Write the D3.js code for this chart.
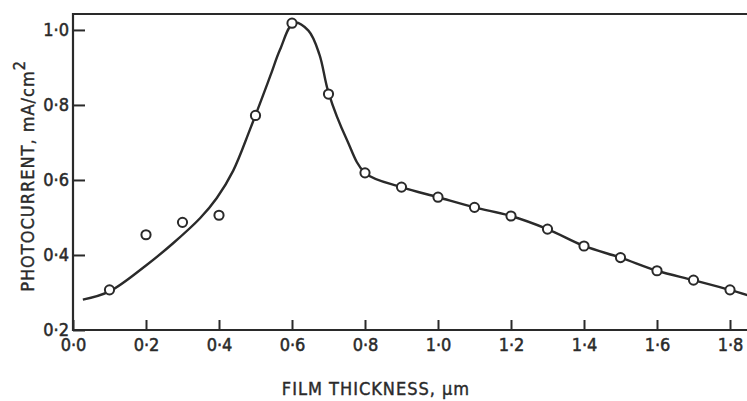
<!DOCTYPE html>
<html><head><meta charset="utf-8">
<script src="https://cdn.jsdelivr.net/npm/d3@7"></script>
<style>body{margin:0;background:#fff}svg{display:block}</style>
</head><body>
<script>
const pointX = [0.1,0.2,0.3,0.4,0.5,0.6,0.7,0.8,0.9,1.0,1.1,1.2,1.3,1.4,1.5,1.6,1.7,1.8];
const pointY = [0.307,0.454,0.487,0.506,0.772,1.018,0.829,0.619,0.581,0.554,0.527,0.504,0.469,0.424,0.393,0.358,0.333,0.307];
const curveX = [0.027,0.1,0.2,0.275,0.348,0.394,0.439,0.485,0.54,0.567,0.605,0.645,0.675,0.7,0.75,0.8,0.9,1.0,1.1,1.2,1.3,1.4,1.5,1.6,1.7,1.8,1.85];
const curveY = [0.281,0.303,0.372,0.432,0.498,0.552,0.625,0.735,0.876,0.947,1.019,0.998,0.935,0.833,0.708,0.619,0.581,0.554,0.527,0.504,0.469,0.424,0.393,0.358,0.333,0.307,0.292];
const xTicks = [0,0.2,0.4,0.6,0.8,1.0,1.2,1.4,1.6,1.8];
const xTickLabels = ["0·0","0·2","0·4","0·6","0·8","1·0","1·2","1·4","1·6","1·8"];
const yTicks = [0.2,0.4,0.6,0.8,1.0];
const yTickLabels = ["0·2","0·4","0·6","0·8","1·0"];

const W=747,H=401, L=73, T=14, R=747, B=330;
const svg=d3.select("body").append("svg").attr("width",W).attr("height",H);
const x=d3.scaleLinear().domain([0,(R-L)/365]).range([L,R]);
const y=d3.scaleLinear().domain([0.2,1.0+16/376.5]).range([B,T]);
const ink="#2a2a2a";
const font="'DejaVu Sans Condensed','DejaVu Sans',sans-serif";

svg.append("path").attr("d",`M${R},${T}H${L}V${B}H${R}`).attr("fill","none").attr("stroke",ink).attr("stroke-width",2.2);

const xa=svg.append("g").attr("transform",`translate(0,${B})`)
 .call(d3.axisBottom(x).tickValues(xTicks).tickSize(-10).tickPadding(6).tickFormat((d,i)=>xTickLabels[i]));
const ya=svg.append("g").attr("transform",`translate(${L},0)`)
 .call(d3.axisLeft(y).tickValues(yTicks).tickSize(-12).tickPadding(4).tickFormat((d,i)=>yTickLabels[i]));
[xa,ya].forEach(a=>{
 a.select(".domain").remove();
 a.selectAll(".tick line").attr("stroke",ink).attr("stroke-width",2);
 a.selectAll(".tick text").attr("fill",ink).attr("stroke",ink).attr("stroke-width",0.5)
  .style("font-family",font).style("font-size","18px");
});
xa.selectAll(".tick text").attr("dy","0.85em");

const line=d3.line().x(d=>x(d[0])).y(d=>y(d[1])).curve(d3.curveCatmullRom.alpha(0.5));
svg.append("path").datum(curveX.map((v,i)=>[v,curveY[i]])).attr("d",line)
 .attr("fill","none").attr("stroke",ink).attr("stroke-width",2.4);

svg.selectAll("circle.p").data(pointX.map((v,i)=>[v,pointY[i]])).enter().append("circle")
 .attr("cx",d=>x(d[0])).attr("cy",d=>y(d[1])).attr("r",4.6)
 .attr("fill","#fff").attr("stroke",ink).attr("stroke-width",2);

svg.append("text").attr("x",376).attr("y",395).attr("text-anchor","middle")
 .attr("fill",ink).attr("stroke",ink).attr("stroke-width",0.4)
 .style("font-family",font).style("font-size","18px").style("letter-spacing","1px")
 .text("FILM THICKNESS, μm");

const yt=svg.append("text").attr("transform","translate(34,176) rotate(-90)").attr("text-anchor","middle")
 .attr("fill",ink).attr("stroke",ink).attr("stroke-width",0.4)
 .style("font-family",font).style("font-size","18px").style("letter-spacing","1px");
yt.append("tspan").text("PHOTOCURRENT, mA/cm");
yt.append("tspan").attr("dy","-9").style("font-size","16px").text("2");
</script>
</body></html>
